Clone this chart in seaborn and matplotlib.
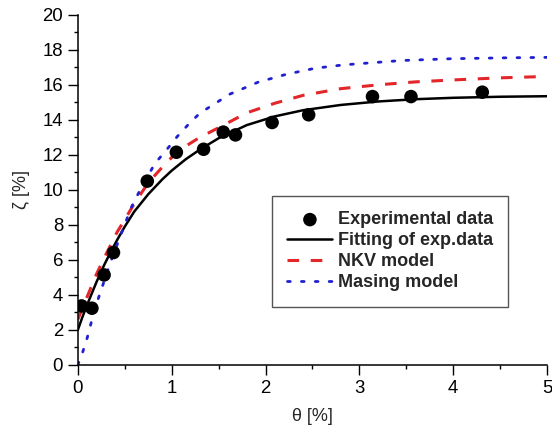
import numpy as np
import pandas as pd
import matplotlib
matplotlib.use("Agg")
import matplotlib.pyplot as plt
import seaborn as sns
from matplotlib.ticker import MultipleLocator

# Experimental data
exp_x = [0.04, 0.15, 0.28, 0.38, 0.74, 1.05, 1.34, 1.55, 1.68, 2.07, 2.46, 3.14, 3.55, 4.31]
exp_y = [3.37, 3.24, 5.14, 6.42, 10.5, 12.15, 12.32, 13.3, 13.14, 13.85, 14.29, 15.33, 15.33, 15.58]

# Fitting of exp. data
fit_x = [0, 0.05, 0.1, 0.15, 0.2, 0.28, 0.35, 0.42, 0.5, 0.6, 0.75, 0.9, 1.0, 1.15, 1.3, 1.5, 1.8, 2.1, 2.4, 2.8, 3.2, 3.6, 4.0, 4.5, 5.0]
fit_y = [2.0, 2.75, 3.45, 4.1, 4.75, 5.7, 6.45, 7.15, 7.9, 8.75, 9.75, 10.6, 11.1, 11.75, 12.3, 12.95, 13.7, 14.2, 14.55, 14.85, 15.05, 15.18, 15.26, 15.32, 15.35]

# NKV model
nkv_x = [0, 0.05, 0.1, 0.15, 0.2, 0.28, 0.35, 0.42, 0.5, 0.6, 0.75, 0.9, 1.0, 1.15, 1.3, 1.5, 1.8, 2.1, 2.4, 2.8, 3.2, 3.6, 4.0, 4.5, 5.0]
nkv_y = [2.6, 3.25, 3.9, 4.55, 5.2, 6.1, 6.85, 7.6, 8.3, 9.2, 10.4, 11.3, 11.85, 12.5, 13.0, 13.55, 14.4, 14.95, 15.4, 15.78, 16.0, 16.17, 16.28, 16.4, 16.48]

# Masing model
mas_x = [0, 0.05, 0.1, 0.15, 0.2, 0.25, 0.35, 0.47, 0.57, 0.65, 0.82, 0.94, 1.06, 1.18, 1.3, 1.62, 1.92, 2.22, 2.53, 2.83, 3.45, 3.97, 4.5, 5.0]
mas_y = [0, 0.7, 1.55, 2.57, 3.5, 4.3, 5.9, 7.6, 9.0, 9.85, 11.5, 12.25, 13.05, 13.75, 14.38, 15.47, 16.15, 16.6, 16.95, 17.14, 17.39, 17.49, 17.54, 17.57]

x_ticks = [0, 1, 2, 3, 4, 5]
y_ticks = [0, 2, 4, 6, 8, 10, 12, 14, 16, 18, 20]

sns.set_theme(style="ticks")
plt.rcParams['font.family'] = ['Liberation Sans', 'DejaVu Sans']

fig = plt.figure(figsize=(5.52, 4.36), dpi=100)
ax = fig.add_axes([0.141, 0.163, 0.850, 0.803])

sns.scatterplot(x=exp_x, y=exp_y, ax=ax, color="black", s=95, edgecolor="none",
                label="Experimental data", zorder=3)
sns.lineplot(x=fit_x, y=fit_y, ax=ax, color="black", linewidth=1.8,
             label="Fitting of exp.data", zorder=2)
sns.lineplot(x=nkv_x, y=nkv_y, ax=ax, color="#e3262a", linewidth=2.2,
             linestyle=(0, (3.8, 3.8)), label="NKV model", zorder=2)
sns.lineplot(x=mas_x, y=mas_y, ax=ax, color="#2020d0", linewidth=2.0,
             linestyle=(0, (1, 4)), label="Masing model", zorder=2,
             dash_capstyle="round")

ax.set_xlim(0, 5)
ax.set_ylim(0, 20)
ax.set_xticks(x_ticks)
ax.set_yticks(y_ticks)
ax.xaxis.set_minor_locator(MultipleLocator(0.5))
ax.yaxis.set_minor_locator(MultipleLocator(1))
ax.tick_params(axis='both', which='major', direction='out', length=7, width=1.0,
               labelsize=13.4, colors='black', pad=3.5)
ax.tick_params(axis='both', which='minor', direction='out', length=3.2, width=1.0, colors='black')
for s in ['top', 'right']:
    ax.spines[s].set_visible(False)
for s in ['left', 'bottom']:
    ax.spines[s].set_linewidth(1.1)
    ax.spines[s].set_color('black')

ax.set_xlabel("θ [%]", fontsize=13, labelpad=8)
ax.set_ylabel("ζ [%]", fontsize=13, labelpad=9)

handles, labels = ax.get_legend_handles_labels()
leg = ax.legend(handles, labels, loc='upper left',
                bbox_to_anchor=(272 / 552, 1 - 196 / 436), bbox_transform=fig.transFigure,
                frameon=True, fancybox=False, edgecolor='#555555', framealpha=1,
                prop={'weight': 'bold', 'size': 13}, handlelength=2.5,
                handletextpad=0.28, labelspacing=0.22, borderpad=0.85,
                borderaxespad=0)
leg.get_frame().set_linewidth(1.0)

fig.savefig("out.png", dpi=100)
